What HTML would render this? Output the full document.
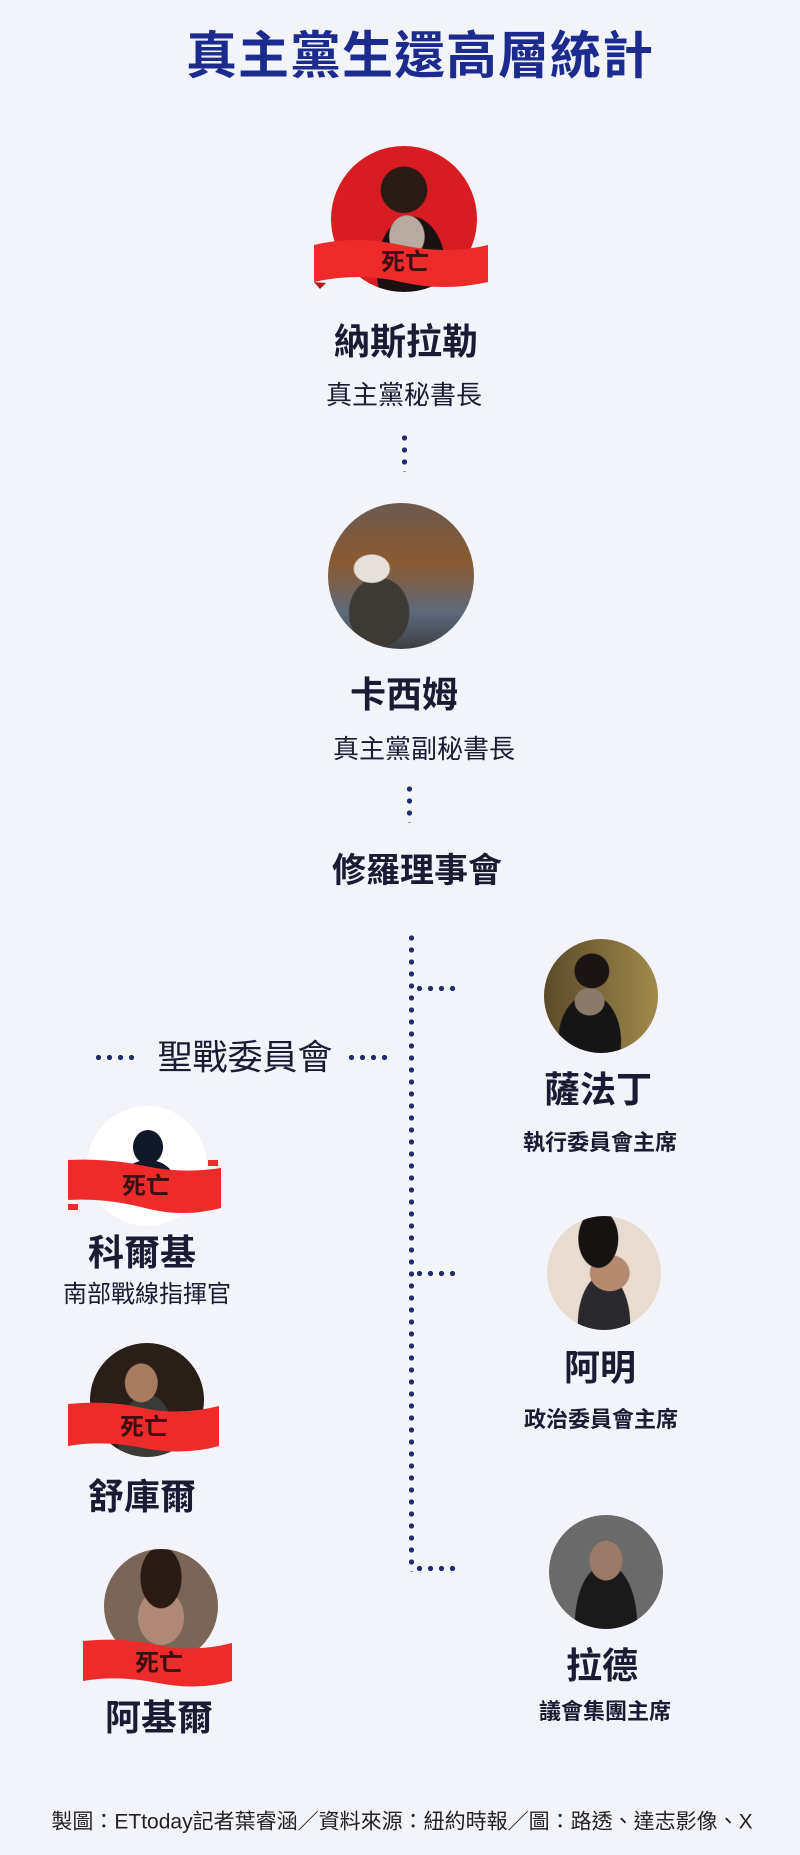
<!DOCTYPE html>
<html><head><meta charset="utf-8">
<style>
html,body{margin:0;padding:0}
body{width:800px;height:1855px;background:#f2f4fa;position:relative;overflow:hidden;font-family:"Liberation Sans","Noto Sans CJK TC",sans-serif;color:#1b1b33}
.t{position:absolute;transform:translate(-50%,-50%);white-space:nowrap;line-height:1}
.b{font-weight:bold}
.c{position:absolute;border-radius:50%;overflow:hidden}
.dv{position:absolute;width:5px;background:radial-gradient(circle,#1f2d6e 2.4px,transparent 2.8px) 0 0/5px 12px repeat-y}
.dh{position:absolute;height:5px;background:radial-gradient(circle,#1f2d6e 2.4px,transparent 2.8px) 0 0/11px 5px repeat-x}
svg{position:absolute;overflow:visible}
</style></head><body>

<div class="t b" style="left:420px;top:56px;font-size:51px;color:#1d2b8f;letter-spacing:1px">真主黨生還高層統計</div>

<!-- Nasrallah -->
<div class="c" style="left:331px;top:146px;width:146px;height:146px;background:radial-gradient(circle at 50% 30%,#2a1a14 0 18%,transparent 19%),radial-gradient(ellipse at 52% 62%,#b7aaa0 0 16%,transparent 17%),radial-gradient(ellipse at 55% 85%,#1a1212 0 30%,transparent 31%),#d71d22"></div>
<svg style="left:314px;top:237px" width="174" height="55" viewBox="0 0 174 55"><path d="M0 8 Q40 -2 87 8 T174 8 L174 45 Q130 55 87 45 T0 45 Z" fill="#ee2b2b"/><path d="M0 45 L6 52 L12 46Z" fill="#b01717"/></svg>
<div class="t b" style="left:405px;top:263px;font-size:24px;color:#3a1010">死亡</div>
<div class="t b" style="left:406px;top:342px;font-size:36px">納斯拉勒</div>
<div class="t" style="left:404px;top:395px;font-size:26px">真主黨秘書長</div>
<div class="dv" style="left:402px;top:432px;height:40px"></div>

<!-- Qassem -->
<div class="c" style="left:328px;top:503px;width:146px;height:146px;background:radial-gradient(ellipse at 30% 45%,#e6e0da 0 12%,transparent 13%),radial-gradient(ellipse at 35% 75%,#3d3a36 0 22%,transparent 23%),linear-gradient(180deg,#6b5a52 0%,#8a5a30 40%,#5e6a7a 75%,#3c3f44 100%)"></div>
<div class="t b" style="left:404px;top:695px;font-size:36px">卡西姆</div>
<div class="t" style="left:424px;top:749px;font-size:26px">真主黨副秘書長</div>
<div class="dv" style="left:407px;top:783px;height:40px"></div>
<div class="t b" style="left:417px;top:871px;font-size:34px">修羅理事會</div>

<!-- main vertical -->
<div class="dv" style="left:409px;top:932px;height:640px"></div>
<div class="dh" style="left:414px;top:986px;width:46px"></div>
<div class="dh" style="left:414px;top:1271px;width:46px"></div>
<div class="dh" style="left:414px;top:1566px;width:46px"></div>

<!-- jihad council -->
<div class="dh" style="left:93px;top:1055px;width:44px"></div>
<div class="t" style="left:245px;top:1058px;font-size:35px">聖戰委員會</div>
<div class="dh" style="left:346px;top:1055px;width:42px"></div>

<!-- Safieddine -->
<div class="c" style="left:544px;top:939px;width:114px;height:114px;background:radial-gradient(circle at 42% 28%,#1a1412 0 16%,transparent 17%),radial-gradient(ellipse at 40% 55%,#8a7a6c 0 15%,transparent 16%),radial-gradient(ellipse at 40% 90%,#151515 0 32%,transparent 33%),linear-gradient(90deg,#5a4a2a,#a08a4a)"></div>
<div class="t b" style="left:598px;top:1090px;font-size:36px">薩法丁</div>
<div class="t b" style="left:600px;top:1143px;font-size:22px">執行委員會主席</div>

<!-- Kourki -->
<div class="c" style="left:87px;top:1106px;width:120px;height:120px;background:#fff"></div>
<div class="c" style="left:133px;top:1130px;width:30px;height:34px;background:#111827"></div>
<div class="c" style="left:122px;top:1160px;width:52px;height:40px;background:#111827;border-radius:50% 50% 0 0"></div>
<svg style="left:68px;top:1160px" width="153" height="60" viewBox="0 0 153 60"><path d="M0 0 Q40 -2 77 6 T153 8 L153 48 Q115 58 77 48 T0 40 Z" fill="#ee2b2b"/><rect x="0" y="44" width="10" height="6" fill="#ee2b2b"/><rect x="140" y="0" width="10" height="6" fill="#ee2b2b"/></svg>
<div class="t b" style="left:146px;top:1187px;font-size:24px;color:#3a1010">死亡</div>
<div class="t b" style="left:142px;top:1253px;font-size:36px">科爾基</div>
<div class="t" style="left:147px;top:1295px;font-size:24px">南部戰線指揮官</div>

<!-- Amin -->
<div class="c" style="left:547px;top:1216px;width:114px;height:114px;background:radial-gradient(ellipse at 45% 20%,#161212 0 22%,transparent 23%),radial-gradient(ellipse at 55% 50%,#b58a70 0 22%,transparent 23%),radial-gradient(ellipse at 50% 95%,#2a2a2e 0 32%,transparent 33%),#e8dcd0"></div>
<div class="t b" style="left:600px;top:1368px;font-size:36px">阿明</div>
<div class="t b" style="left:601px;top:1420px;font-size:22px">政治委員會主席</div>

<!-- Shukr -->
<div class="c" style="left:90px;top:1343px;width:114px;height:114px;background:radial-gradient(ellipse at 45% 35%,#a87a60 0 18%,transparent 19%),radial-gradient(ellipse at 50% 90%,#3a3a36 0 35%,transparent 36%),#2a1e18"></div>
<svg style="left:68px;top:1402px" width="151" height="56" viewBox="0 0 151 56"><path d="M0 2 Q40 -2 75 6 T151 4 L151 44 Q115 54 75 46 T0 44 Z" fill="#ee2b2b"/></svg>
<div class="t b" style="left:144px;top:1428px;font-size:24px;color:#3a1010">死亡</div>
<div class="t b" style="left:142px;top:1497px;font-size:36px">舒庫爾</div>

<!-- Raad -->
<div class="c" style="left:549px;top:1515px;width:114px;height:114px;background:radial-gradient(ellipse at 50% 40%,#9a7a68 0 20%,transparent 21%),radial-gradient(ellipse at 50% 95%,#1a1a1a 0 38%,transparent 39%),#6a6a6a"></div>
<div class="t b" style="left:602px;top:1666px;font-size:36px">拉德</div>
<div class="t b" style="left:605px;top:1712px;font-size:22px">議會集團主席</div>

<!-- Aqil -->
<div class="c" style="left:104px;top:1549px;width:114px;height:114px;background:radial-gradient(ellipse at 50% 25%,#2a1a14 0 25%,transparent 26%),radial-gradient(ellipse at 50% 60%,#b08a78 0 28%,transparent 29%),#7a6658"></div>
<svg style="left:83px;top:1639px" width="149" height="54" viewBox="0 0 149 54"><path d="M0 2 Q40 -2 75 6 T149 4 L149 42 Q115 52 75 44 T0 42 Z" fill="#ee2b2b"/></svg>
<div class="t b" style="left:159px;top:1664px;font-size:24px;color:#3a1010">死亡</div>
<div class="t b" style="left:159px;top:1718px;font-size:36px">阿基爾</div>

<div class="t" style="left:402px;top:1822px;font-size:21px;color:#222">製圖：ETtoday記者葉睿涵／資料來源：紐約時報／圖：路透、達志影像、X</div>
</body></html>
